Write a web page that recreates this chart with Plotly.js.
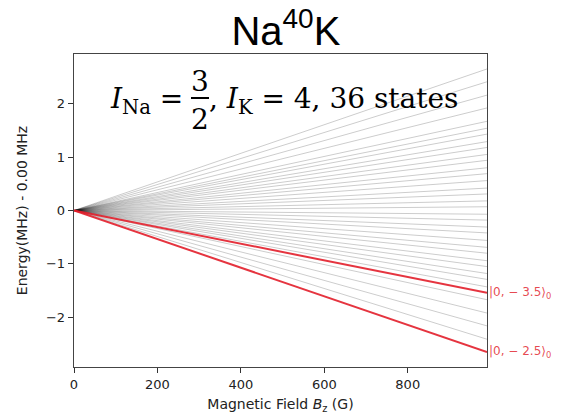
<!DOCTYPE html>
<html>
<head>
<meta charset="utf-8">
<script src="https://cdn.plot.ly/plotly-3.0.1.min.js"></script>
<style>
  html, body { margin: 0; padding: 0; background: #fff; }
  #chart { width: 577px; height: 414px; }
</style>
</head>
<body>
<div id="chart"></div>
<script>
// Zeeman map of the Na40K ground state: each hyperfine level runs from 0 at zero field
// to its energy at the largest field shown.
const fieldStart = 0;      // G
const fieldEnd = 990;      // G

// Energies (MHz) reached at fieldEnd by the 34 grey levels
const greyEnergyAtEnd = [
  -2.41, -2.16, -1.92, -1.67, -1.43, -1.18, -0.94, -0.69,
  -1.29, -1.05, -0.80, -0.56, -0.31, -0.07, 0.18, 0.42,
  -0.42, -0.18, 0.07, 0.31, 0.56, 0.80, 1.05, 1.29, 1.54,
  0.69, 0.94, 1.18, 1.43, 1.67, 1.92, 2.16, 2.41, 2.65
];

// The two highlighted levels and their labels
const redLabels = ['|0, − 3.5⟩<sub>0</sub>', '|0, − 2.5⟩<sub>0</sub>'];
const redEnergyAtEnd = [-1.54, -2.65];

const xTicks = [0, 200, 400, 600, 800];
const yTicks = [-2, -1, 0, 1, 2];

const traces = [];
greyEnergyAtEnd.forEach(e => {
  traces.push({
    x: [fieldStart, fieldEnd], y: [0, e],
    mode: 'lines', type: 'scatter', hoverinfo: 'skip', showlegend: false,
    line: { color: 'rgba(0,0,0,0.2)', width: 1 }
  });
});
redEnergyAtEnd.forEach(e => {
  traces.push({
    x: [fieldStart, fieldEnd], y: [0, e],
    mode: 'lines', type: 'scatter', hoverinfo: 'skip', showlegend: false,
    line: { color: 'rgba(226,30,42,0.9)', width: 2 }
  });
});

const W = 577, H = 414;
const L = 74, R = 487, T = 54, B = 367;
const px = v => (v - L) / (R - L);
const py = v => (B - v) / (B - T);

const mathFont = { family: 'DejaVu Serif, serif', size: 28, color: '#000' };

const annotations = [
  // state labels at the right edge
  ...redLabels.map((t, i) => ({
    xref: 'paper', yref: 'y', x: 1.0, y: redEnergyAtEnd[i],
    xanchor: 'left', yanchor: 'middle', text: t, showarrow: false,
    font: { family: 'DejaVu Sans', size: 12, color: 'rgba(226,40,50,0.85)' }
  })),
  // nuclear spin annotation
  { xref: 'paper', yref: 'paper', x: px(185), y: py(100), xanchor: 'right', yanchor: 'middle',
    text: '<i>I</i><sub>Na</sub> =', showarrow: false, font: mathFont },
  { xref: 'paper', yref: 'paper', x: px(200), y: py(81), xanchor: 'center', yanchor: 'middle',
    text: '3', showarrow: false, font: mathFont },
  { xref: 'paper', yref: 'paper', x: px(200), y: py(120), xanchor: 'center', yanchor: 'middle',
    text: '2', showarrow: false, font: mathFont },
  { xref: 'paper', yref: 'paper', x: px(207), y: py(100), xanchor: 'left', yanchor: 'middle',
    text: ', <i>I</i><sub>K</sub> = 4, 36 states', showarrow: false, font: mathFont }
];

const layout = {
  width: W, height: H,
  margin: { l: L, r: W - R, t: T, b: H - B, pad: 0 },
  paper_bgcolor: '#fff', plot_bgcolor: '#fff',
  font: { family: 'DejaVu Sans', size: 13, color: '#222' },
  title: {
    text: 'Na<sup>40</sup>K',
    font: { family: 'Liberation Sans, Arial', size: 40, color: '#000' },
    x: 296 / W, xanchor: 'center', xref: 'paper',
    y: 1 - 31 / H, yanchor: 'middle', yref: 'container'
  },
  xaxis: {
    range: [fieldStart, fieldEnd], tickvals: xTicks, ticktext: xTicks.map(String),
    ticks: 'outside', ticklen: 5, tickwidth: 1, tickcolor: '#333',
    showline: true, mirror: true, linecolor: '#444', linewidth: 1.3,
    showgrid: false, zeroline: false,
    tickfont: { size: 13, color: '#222' },
    title: { text: 'Magnetic Field <i>B</i><sub>z</sub> (G)', font: { size: 14, color: '#222' }, standoff: 9 }
  },
  yaxis: {
    range: [-2.93, 2.93], tickvals: yTicks,
    ticks: 'outside', ticklen: 5, tickwidth: 1, tickcolor: '#333',
    showline: true, mirror: true, linecolor: '#444', linewidth: 1.3,
    showgrid: false, zeroline: false,
    tickfont: { size: 13, color: '#222' },
    title: { text: 'Energy(MHz) - 0.00 MHz', font: { size: 14, color: '#222' }, standoff: 15 }
  },
  shapes: [
    // fraction bar of 3/2
    { type: 'line', xref: 'paper', yref: 'paper', x0: px(191), x1: px(209), y0: py(98), y1: py(98),
      line: { color: '#000', width: 2 } }
  ],
  annotations: annotations,
  showlegend: false
};

Plotly.newPlot('chart', traces, layout, { displayModeBar: false, staticPlot: true });
</script>
</body>
</html>
